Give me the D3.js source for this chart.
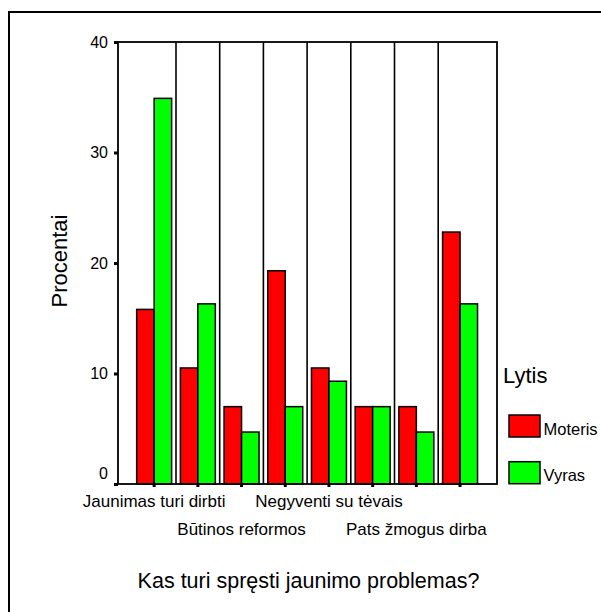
<!DOCTYPE html>
<html>
<head>
<meta charset="utf-8">
<script src="https://cdn.jsdelivr.net/npm/d3@7"></script>
<style>
  html, body { margin: 0; padding: 0; background: #fff; }
  svg { display: block; font-family: "Liberation Sans", Arial, sans-serif; }
</style>
</head>
<body>
<svg id="chart" width="601" height="612"></svg>
<script>
// ---- data ----
const categories = [1, 2, 3, 4, 5, 6, 7, 8];
const tickLabels = ["Jaunimas turi dirbti", "", "Būtinos reformos", "", "Negyventi su tėvais", "", "Pats žmogus dirba", ""];
const seriesNames = ["Moteris", "Vyras"];
const moteris = [15.8, 10.5, 7.0, 19.3, 10.5, 7.0, 7.0, 22.8];
const vyras = [34.9, 16.3, 4.7, 7.0, 9.3, 7.0, 4.7, 16.3];
const yTicks = [0, 10, 20, 30, 40];
const seriesColors = ["#ff0000", "#00ff00"];
const xTitle = "Kas turi spręsti jaunimo problemas?";
const yTitle = "Procentai";
const legendTitle = "Lytis";

// ---- layout ----
const svg = d3.select("#chart");
const plot = { left: 118, right: 497, top: 42, bottom: 484 };

// outer frame
svg.append("rect")
  .attr("x", 9).attr("y", 12).attr("width", 640).attr("height", 640)
  .attr("fill", "none").attr("stroke", "#000").attr("stroke-width", 2);

const x = d3.scaleBand().domain(categories).range([132.3, 481.9]).padding(0);
const xs = d3.scaleBand().domain(seriesNames).range([0, x.bandwidth()]).paddingInner(0).paddingOuter(0.25);
const y = d3.scaleLinear().domain([0, 40]).range([plot.bottom, plot.top]);
const color = d3.scaleOrdinal().domain(seriesNames).range(seriesColors);

const series = [moteris, vyras];
const rows = categories.map((c, i) => ({ cat: c, vals: seriesNames.map((s, k) => ({ s, v: series[k][i] })) }));

// separators between categories
const g = svg.append("g");
g.selectAll("line.sep")
  .data(categories.slice(1))
  .join("line")
  .attr("class", "sep")
  .attr("x1", d => x(d)).attr("x2", d => x(d))
  .attr("y1", plot.top).attr("y2", plot.bottom)
  .attr("stroke", "#000").attr("stroke-width", 1.6);

// bars
g.selectAll("g.grp")
  .data(rows)
  .join("g")
  .attr("class", "grp")
  .attr("transform", d => `translate(${x(d.cat)},0)`)
  .selectAll("rect")
  .data(d => d.vals)
  .join("rect")
  .attr("x", d => xs(d.s))
  .attr("width", xs.bandwidth())
  .attr("y", d => y(d.v))
  .attr("height", d => y(0) - y(d.v))
  .attr("fill", d => color(d.s))
  .attr("stroke", "#000")
  .attr("stroke-width", 1.5);

// plot frame
svg.append("rect")
  .attr("x", plot.left).attr("y", plot.top)
  .attr("width", plot.right - plot.left).attr("height", plot.bottom - plot.top)
  .attr("fill", "none").attr("stroke", "#000").attr("stroke-width", 1.8);

// y axis
const yAxis = svg.append("g")
  .attr("transform", `translate(${plot.left},0)`)
  .call(d3.axisLeft(y).tickValues(yTicks).tickSize(4).tickPadding(6));
yAxis.select(".domain").remove();
yAxis.selectAll(".tick line").attr("stroke", "#000").attr("stroke-width", 3);
yAxis.selectAll(".tick text")
  .attr("font-size", 16).attr("fill", "#000")
  .attr("font-family", "Liberation Sans, Arial, sans-serif")
  .attr("dy", d => d === 0 ? "-0.35em" : "0.34em");

// x axis
const xAxis = svg.append("g")
  .attr("transform", `translate(0,${plot.bottom})`)
  .call(d3.axisBottom(x).tickSize(3).tickFormat((d, i) => tickLabels[i]));
xAxis.select(".domain").remove();
xAxis.selectAll(".tick line").attr("stroke", "#000").attr("stroke-width", 3);
xAxis.selectAll(".tick text")
  .attr("font-size", 17).attr("fill", "#000")
  .attr("font-family", "Liberation Sans, Arial, sans-serif")
  .attr("dy", 0)
  .attr("y", (d, i) => (Math.floor(i / 2) % 2 === 0) ? 22.7 : 51);

// titles
svg.append("text")
  .attr("x", (plot.left + plot.right) / 2 + 1).attr("y", 588)
  .attr("text-anchor", "middle").attr("font-size", 21.5)
  .text(xTitle);

svg.append("text")
  .attr("transform", `translate(67,261) rotate(-90)`)
  .attr("text-anchor", "middle").attr("font-size", 22)
  .text(yTitle);

// legend
const lg = svg.append("g");
lg.append("text").attr("x", 503).attr("y", 383).attr("font-size", 22).text(legendTitle);
const items = lg.selectAll("g.item").data(seriesNames).join("g")
  .attr("class", "item")
  .attr("transform", (d, i) => `translate(509,${415 + i * 46.7})`);
items.append("rect").attr("width", 31).attr("height", 22)
  .attr("fill", d => color(d)).attr("stroke", "#000").attr("stroke-width", 1.5);
items.append("text").attr("x", 34.5).attr("y", 19.5).attr("font-size", 16.5).text(d => d);
</script>
</body>
</html>
